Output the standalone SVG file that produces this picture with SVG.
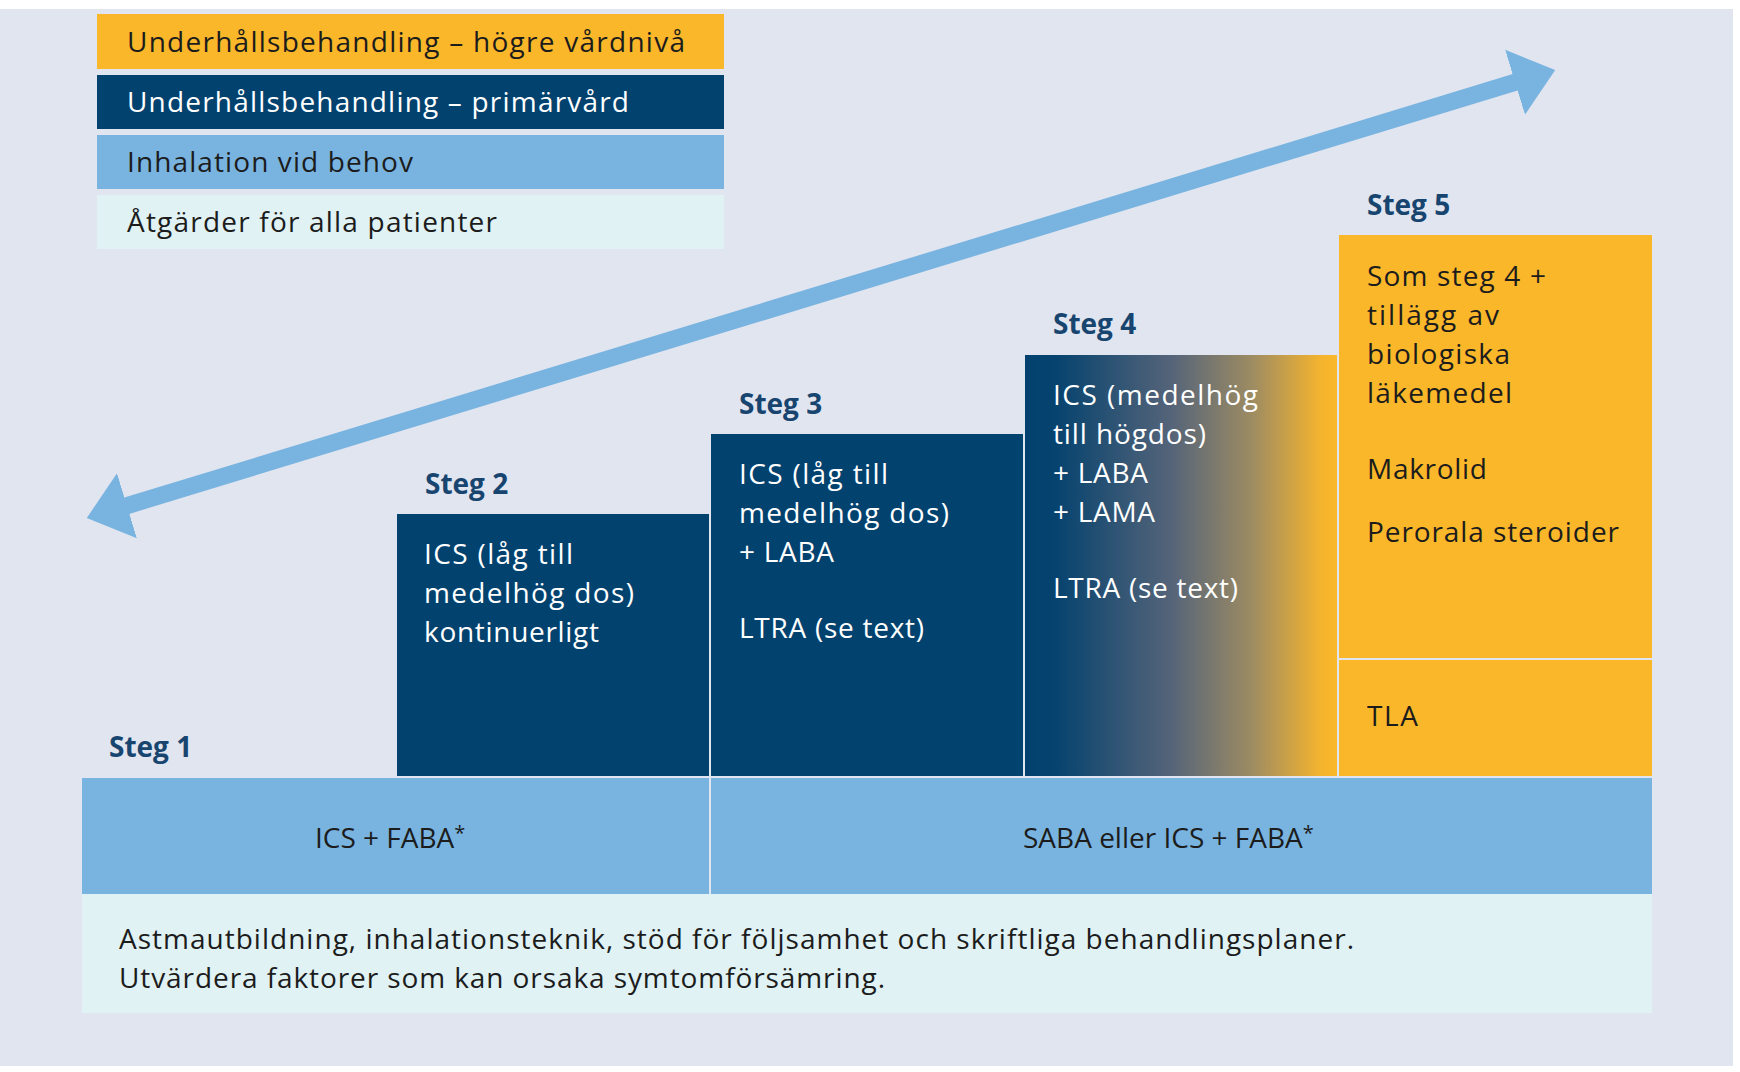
<svg xmlns="http://www.w3.org/2000/svg" width="1740" height="1072" viewBox="0 0 1740 1072">
  <style>
    .t { font-family: "Open Sans", "Liberation Sans", sans-serif; font-size: 28px; fill: #1c1c1c; }
    .w { fill: #ffffff; }
    .lbl { font-family: "Open Sans", "Liberation Sans", sans-serif; font-size: 28px; font-weight: 700; fill: #17456f; }
    .sup { font-size: 20px; }
    .orange { fill: #fab72a; }
    .dark { fill: #02426f; }
    .lblue { fill: #79b4e0; }
    .pale { fill: #e0f2f4; }
  </style>
  <defs>
    <linearGradient id="g4" x1="0" y1="0" x2="1" y2="0">
      <stop offset="0" stop-color="#02416f"/>
      <stop offset="0.1" stop-color="#06436f"/>
      <stop offset="0.47" stop-color="#556479"/>
      <stop offset="0.73" stop-color="#9e8c62"/>
      <stop offset="0.95" stop-color="#f5b42e"/>
      <stop offset="1" stop-color="#fab72a"/>
    </linearGradient>
    <marker id="head" markerUnits="userSpaceOnUse" markerWidth="44" markerHeight="70" refX="1" refY="35" orient="auto-start-reverse" viewBox="0 0 44 70">
      <path d="M0,1 L42,35 L0,69 z" fill="#79b4e0"/>
    </marker>
  </defs>

  <rect x="0" y="0" width="1740" height="1072" fill="#ffffff"/>
  <rect x="0" y="9" width="1733" height="1057" fill="#e1e5ef"/>

  <!-- Legend -->
  <g id="legend-hogre">
    <rect class="orange" x="97" y="14" width="627" height="55"/>
    <text class="t" x="127" y="52" textLength="558">Underhållsbehandling – högre vårdnivå</text>
  </g>
  <g id="legend-primarvard">
    <rect class="dark" x="97" y="75" width="627" height="54"/>
    <text class="t w" x="127" y="112" textLength="502">Underhållsbehandling – primärvård</text>
  </g>
  <g id="legend-inhalation">
    <rect class="lblue" x="97" y="135" width="627" height="54"/>
    <text class="t" x="127" y="172" textLength="286">Inhalation vid behov</text>
  </g>
  <g id="legend-atgarder">
    <rect class="pale" x="97" y="195" width="627" height="54"/>
    <text class="t" x="127" y="232" textLength="370">Åtgärder för alla patienter</text>
  </g>

  <!-- Connector: double-headed arrow -->
  <g id="connectors">
    <line x1="126" y1="506" x2="1516" y2="82" stroke="#79b4e0" stroke-width="17" marker-start="url(#head)" marker-end="url(#head)"/>
  </g>

  <!-- Steg 1 -->
  <g id="steg1">
    <text class="lbl" x="109" y="757">Steg 1</text>
  </g>

  <!-- Steg 2 -->
  <g id="steg2">
    <text class="lbl" x="425" y="494">Steg 2</text>
    <rect class="dark" x="397" y="514" width="312" height="262"/>
    <text class="t w" x="424" y="564" textLength="149">ICS (låg till</text>
    <text class="t w" x="424" y="603" textLength="210">medelhög dos)</text>
    <text class="t w" x="424" y="642" textLength="175">kontinuerligt</text>
  </g>

  <!-- Steg 3 -->
  <g id="steg3">
    <text class="lbl" x="739" y="414">Steg 3</text>
    <rect class="dark" x="711" y="434" width="312" height="342"/>
    <text class="t w" x="739" y="484" textLength="149">ICS (låg till</text>
    <text class="t w" x="739" y="523" textLength="210">medelhög dos)</text>
    <text class="t w" x="739" y="562" textLength="95">+ LABA</text>
    <text class="t w" x="739" y="638" textLength="185">LTRA (se text)</text>
  </g>

  <!-- Steg 4 -->
  <g id="steg4">
    <text class="lbl" x="1053" y="334">Steg 4</text>
    <rect x="1025" y="355" width="312" height="421" fill="url(#g4)"/>
    <text class="t w" x="1053" y="405" textLength="205">ICS (medelhög</text>
    <text class="t w" x="1053" y="444" textLength="153">till högdos)</text>
    <text class="t w" x="1053" y="483" textLength="95">+ LABA</text>
    <text class="t w" x="1053" y="522" textLength="102">+ LAMA</text>
    <text class="t w" x="1053" y="598" textLength="185">LTRA (se text)</text>
  </g>

  <!-- Steg 5 -->
  <g id="steg5">
    <text class="lbl" x="1367" y="215">Steg 5</text>
    <rect class="orange" x="1339" y="235" width="313" height="423"/>
    <text class="t" x="1367" y="286" textLength="179">Som steg 4 +</text>
    <text class="t" x="1367" y="325" textLength="132">tillägg av</text>
    <text class="t" x="1367" y="364" textLength="143">biologiska</text>
    <text class="t" x="1367" y="403" textLength="145">läkemedel</text>
    <text class="t" x="1367" y="479" textLength="120">Makrolid</text>
    <text class="t" x="1367" y="542" textLength="252">Perorala steroider</text>
  </g>
  <g id="steg5-tla">
    <rect class="orange" x="1339" y="660" width="313" height="116"/>
    <text class="t" x="1367" y="726" textLength="51">TLA</text>
  </g>

  <!-- Inhalation vid behov bar -->
  <g id="behov-steg1">
    <rect class="lblue" x="82" y="778" width="627" height="116"/>
    <text class="t" x="315" y="848">ICS + FABA<tspan class="sup" dy="-8">*</tspan></text>
  </g>
  <g id="behov-steg2-5">
    <rect class="lblue" x="711" y="778" width="941" height="116"/>
    <text class="t" x="1023" y="848">SABA eller ICS + FABA<tspan class="sup" dy="-8">*</tspan></text>
  </g>

  <!-- Åtgärder för alla patienter -->
  <g id="atgarder">
    <rect class="pale" x="82" y="894" width="1570" height="119"/>
    <text class="t" x="119" y="949" textLength="1235">Astmautbildning, inhalationsteknik, stöd för följsamhet och skriftliga behandlingsplaner.</text>
    <text class="t" x="119" y="988" textLength="766">Utvärdera faktorer som kan orsaka symtomförsämring.</text>
  </g>
</svg>
